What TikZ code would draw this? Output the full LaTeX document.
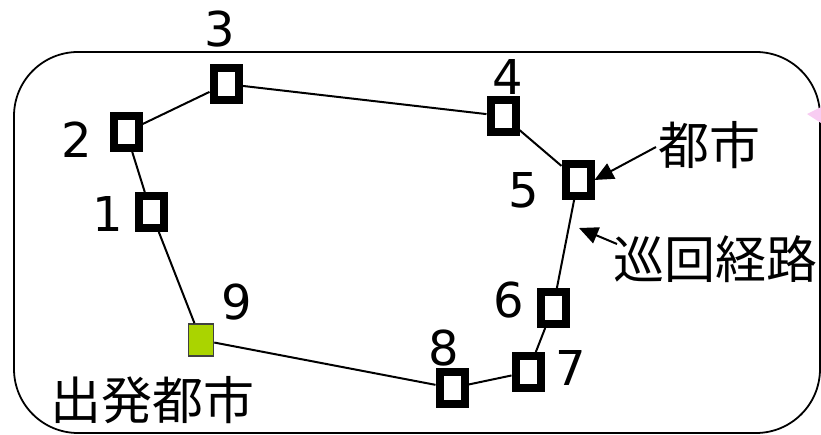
\documentclass[tikz,border=0pt]{standalone}
\usepackage{fontspec}
\setmainfont{DejaVu Sans}
\newfontfamily\jp{Noto Sans CJK JP}
\usetikzlibrary{arrows.meta}
\definecolor{startgreen}{HTML}{AAD400}
\definecolor{tippink}{HTML}{F8CCF2}
\begin{document}
\begin{tikzpicture}[x=1pt,y=-1pt,
  city/.style={draw=black,line width=8pt,fill=white,minimum width=25pt,minimum height=32pt,inner sep=0pt},
  startcity/.style={draw=black!75,line width=1.5pt,fill=startgreen,minimum width=25pt,minimum height=32pt,inner sep=0pt},
  num/.style={font=\fontsize{48}{50}\selectfont,inner sep=0pt},
  jlabel/.style={font=\jp\fontsize{51}{53}\selectfont,inner sep=0pt},
  route/.style={line width=2pt},
  pointer/.style={line width=2pt,-{Triangle[length=19pt,width=17pt]}}]
\useasboundingbox (0,0) rectangle (821,435);
\draw[line width=1.8pt,rounded corners=64pt] (14,52) rectangle (820,433);
\fill[tippink] (807,114) -- (821,107) -- (821,123) -- cycle;
% cities
\node[city] (c1) at (151,212) {};
\node[city] (c2) at (126,132) {};
\node[city] (c3) at (226,84) {};
\node[city] (c4) at (503,116) {};
\node[city] (c5) at (578,180) {};
\node[city] (c6) at (553,308) {};
\node[city] (c7) at (528,372) {};
\node[city] (c8) at (452,388) {};
\node[startcity] (c9) at (201,340) {};
% route
\draw[route] (c9) -- (c1) -- (c2) -- (c3) -- (c4) -- (c5) -- (c6) -- (c7) -- (c8) -- (c9);
% numbers
\node[num] (n1) at (108,214) {1};
\node[num] (n2) at (77,140) {2};
\node[num] (n3) at (220,29) {3};
\node[num] (n4) at (508,77) {4};
\node[num] (n5) at (524,190) {5};
\node[num] (n6) at (509,300) {6};
\node[num] (n7) at (571,368) {7};
\node[num] (n8) at (444,348) {8};
\node[num] (n9) at (237,302) {9};
% labels
\node[jlabel] (lcity) at (709,145) {都市};
\node[jlabel] (lroute) at (715,259) {巡回経路};
\node[jlabel] (lstart) at (152,400) {出発都市};
\coordinate (a1) at (656,147);
\coordinate (a2) at (617,244);
\coordinate (rt) at (579,228);
\draw[pointer] (a1) -- (c5.east);
\draw[pointer] (a2) -- (rt);
\end{tikzpicture}
\end{document}
